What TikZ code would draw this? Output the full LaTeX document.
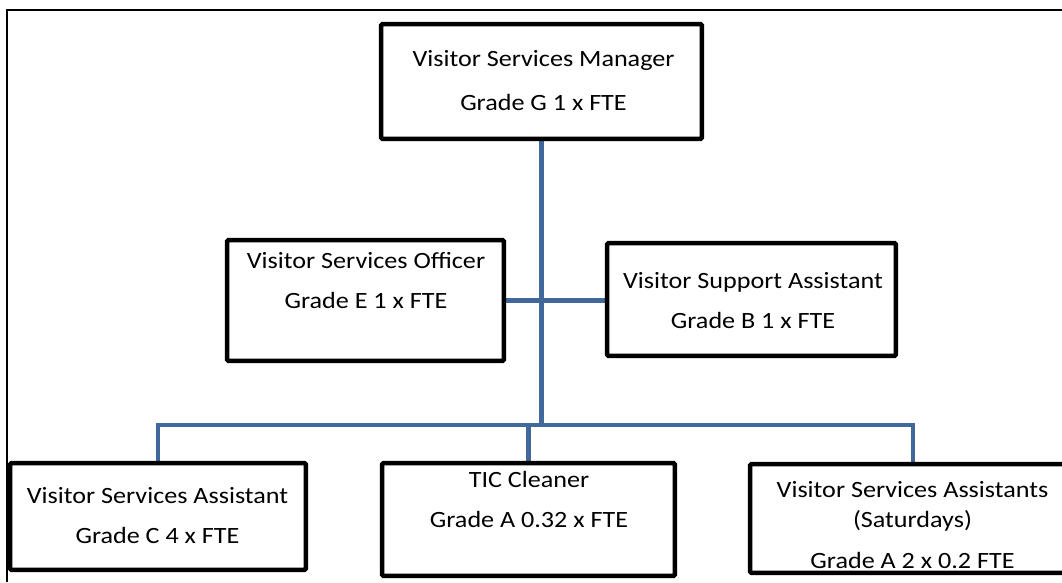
\documentclass[tikz,border=0pt]{standalone}
\usepackage{fontspec}
\setmainfont{Carlito}[FakeStretch=1.12]
\usetikzlibrary{backgrounds}
\definecolor{linkblue}{RGB}{64,104,154}

\begin{document}
\begin{tikzpicture}[x=0.75pt,y=-0.75pt,
  box/.style={draw,fill=white,line width=3.3pt,rounded corners=0.8pt,inner sep=0pt},
  link/.style={draw=linkblue,line width=3.4pt},
  txt/.style={align=center,anchor=base,inner sep=0pt,font=\fontsize{17.5}{22.5}\selectfont}]
\useasboundingbox (0,0) rectangle (1062,582);
% outer frame (only top and left edge visible)
\draw[line width=1.1pt] (7,582) -- (7,10) -- (1062,10);
% boxes
\node[box,minimum width=240.5pt,minimum height=86pt] (mgr) at (541.5,81.5) {};
\node[box,minimum width=207.5pt,minimum height=90.5pt] (off) at (365.5,300.5) {};
\node[box,minimum width=216.5pt,minimum height=84.5pt] (sup) at (751.5,299.5) {};
\node[box,minimum width=221.75pt,minimum height=80pt] (vsa) at (158,516.5) {};
\node[box,minimum width=219.5pt,minimum height=84.5pt] (tic) at (528.5,519.5) {};
\node[box,minimum width=244.25pt,minimum height=81.5pt] (sat) at (913,518.5) {};
% texts (anchored at the baseline of the last line)
\node[txt] (mgr-txt) at (543.5,110) {Visitor Services Manager\\[10.5pt]Grade G 1 x FTE};
\node[txt] (off-txt) at (366,308) {Visitor Services Officer\\[7.5pt]Grade E 1 x FTE};
\node[txt] (sup-txt) at (753,328) {Visitor Support Assistant\\[7.5pt]Grade B 1 x FTE};
\node[txt] (vsa-txt) at (157.5,543) {Visitor Services Assistant\\[7.5pt]Grade C 4 x FTE};
\node[txt] (tic-txt) at (529,527) {TIC Cleaner\\[7.5pt]Grade A 0.32 x FTE};
\node[txt] (sat-txt) at (912.5,568) {Visitor Services Assistants\\(Saturdays)\\[8.25pt]Grade A 2 x 0.2 FTE};
% connectors
\coordinate (bus) at (541.5,425);
\begin{pgfonlayer}{background}
\draw[link] (mgr.south) -- (bus);
\draw[link] (off.east) -- (off.east -| sup.west);
\draw[link] (vsa.north) |- (bus) -| (sat.north);
\draw[link] (tic.north) -- (tic.north |- bus);
\end{pgfonlayer}
\end{tikzpicture}
\end{document}
